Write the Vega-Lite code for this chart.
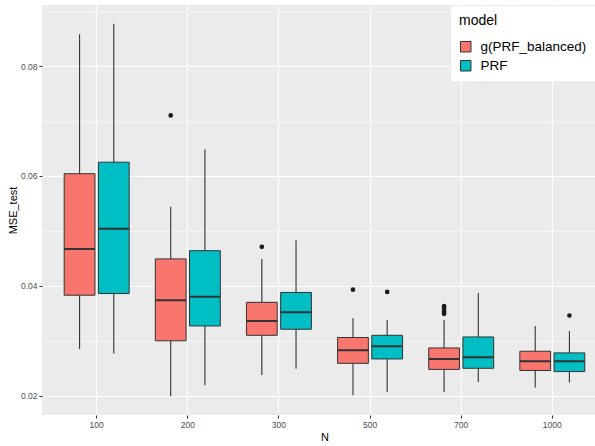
{
  "$schema": "https://vega.github.io/schema/vega-lite/v6.json",
  "width": 553,
  "height": 410,
  "autosize": {"type": "none"},
  "padding": {"left": 42, "top": 5, "right": 0, "bottom": 31},
  "background": "white",
  "config": {
    "font": "Liberation Sans",
    "view": {"fill": "#EBEBEB", "stroke": null}
  },
  "datasets": {
    "boxes": [
      {"N": 100, "model": "g(PRF_balanced)", "lower": 0.0285, "q1": 0.0383, "median": 0.0467, "q3": 0.0604, "upper": 0.0858},
      {"N": 100, "model": "PRF", "lower": 0.0277, "q1": 0.0386, "median": 0.0504, "q3": 0.0625, "upper": 0.0877},
      {"N": 200, "model": "g(PRF_balanced)", "lower": 0.0199, "q1": 0.0300, "median": 0.0374, "q3": 0.0449, "upper": 0.0544},
      {"N": 200, "model": "PRF", "lower": 0.0219, "q1": 0.0327, "median": 0.0380, "q3": 0.0464, "upper": 0.0648},
      {"N": 300, "model": "g(PRF_balanced)", "lower": 0.0238, "q1": 0.0310, "median": 0.0336, "q3": 0.0370, "upper": 0.0449},
      {"N": 300, "model": "PRF", "lower": 0.0249, "q1": 0.0321, "median": 0.0352, "q3": 0.0388, "upper": 0.0483},
      {"N": 500, "model": "g(PRF_balanced)", "lower": 0.0201, "q1": 0.0259, "median": 0.0283, "q3": 0.0306, "upper": 0.0341},
      {"N": 500, "model": "PRF", "lower": 0.0207, "q1": 0.0267, "median": 0.0290, "q3": 0.0310, "upper": 0.0338},
      {"N": 700, "model": "g(PRF_balanced)", "lower": 0.0207, "q1": 0.0248, "median": 0.0267, "q3": 0.0287, "upper": 0.0338},
      {"N": 700, "model": "PRF", "lower": 0.0225, "q1": 0.0250, "median": 0.0270, "q3": 0.0307, "upper": 0.0387},
      {"N": 1000, "model": "g(PRF_balanced)", "lower": 0.0215, "q1": 0.0246, "median": 0.0263, "q3": 0.0281, "upper": 0.0327},
      {"N": 1000, "model": "PRF", "lower": 0.0224, "q1": 0.0244, "median": 0.0263, "q3": 0.0278, "upper": 0.0318}
    ],
    "outliers": [
      {"N": 200, "model": "g(PRF_balanced)", "value": 0.0710},
      {"N": 300, "model": "g(PRF_balanced)", "value": 0.0471},
      {"N": 500, "model": "g(PRF_balanced)", "value": 0.0393},
      {"N": 500, "model": "PRF", "value": 0.0389},
      {"N": 700, "model": "g(PRF_balanced)", "value": 0.0363},
      {"N": 700, "model": "g(PRF_balanced)", "value": 0.0358},
      {"N": 700, "model": "g(PRF_balanced)", "value": 0.0353},
      {"N": 700, "model": "g(PRF_balanced)", "value": 0.0349},
      {"N": 1000, "model": "PRF", "value": 0.0346}
    ]
  },
  "encoding": {
    "x": {
      "field": "N",
      "type": "ordinal",
      "scale": {"range": [0, 565], "paddingInner": 0, "paddingOuter": 0.1},
      "axis": {
        "title": "N",
        "titleFontSize": 11,
        "titleFontWeight": "normal",
        "titleColor": "#000000",
        "titlePadding": 3,
        "labelAngle": 0,
        "labelFontSize": 8.5,
        "labelColor": "#4D4D4D",
        "labelPadding": 2,
        "domain": false,
        "tickColor": "#333333",
        "tickSize": 3,
        "grid": true,
        "gridColor": "#FFFFFF",
        "gridWidth": 1.1
      }
    },
    "xOffset": {
      "field": "model",
      "type": "nominal",
      "scale": {"domain": ["g(PRF_balanced)", "PRF"], "paddingInner": 0.1, "paddingOuter": 0.3825}
    }
  },
  "layer": [
    {
      "data": {"name": "boxes"},
      "mark": {"type": "rule", "color": "#333333", "strokeWidth": 1.1},
      "encoding": {
        "y": {
          "field": "lower",
          "type": "quantitative",
          "scale": {"domain": [0.0165, 0.0911], "nice": false, "zero": false},
          "axis": {
            "title": "MSE_test",
            "titleFontSize": 11,
            "titleFontWeight": "normal",
            "titleColor": "#000000",
            "titlePadding": 2,
            "values": [0.02, 0.03, 0.04, 0.05, 0.06, 0.07, 0.08, 0.09],
            "labelExpr": "round(datum.value*100) % 2 == 0 ? format(datum.value, '.2f') : ''",
            "labelFontSize": 8.5,
            "labelColor": "#4D4D4D",
            "labelPadding": 2,
            "domain": false,
            "tickSize": 3,
            "tickColor": {"condition": {"test": "round(datum.value*100) % 2 == 0", "value": "#333333"}, "value": "transparent"},
            "grid": true,
            "gridColor": "#FFFFFF",
            "gridWidth": {"condition": {"test": "round(datum.value*100) % 2 == 0", "value": 1.1}, "value": 0.55}
          }
        },
        "y2": {"field": "upper"}
      }
    },
    {
      "data": {"name": "boxes"},
      "mark": {"type": "bar", "stroke": "#333333", "strokeWidth": 1},
      "encoding": {
        "y": {"field": "q1", "type": "quantitative"},
        "y2": {"field": "q3"},
        "color": {
          "field": "model",
          "type": "nominal",
          "scale": {"domain": ["g(PRF_balanced)", "PRF"], "range": ["#F8766D", "#00BFC4"]},
          "legend": {
            "title": "model",
            "orient": "none",
            "legendX": 409,
            "legendY": 1,
            "fillColor": "#FFFFFF",
            "padding": 8,
            "titleFontSize": 14,
            "titleFontWeight": "normal",
            "titleColor": "#000000",
            "titlePadding": 12,
            "labelFontSize": 13.5,
            "labelColor": "#000000",
            "labelOffset": 8,
            "symbolType": "square",
            "symbolSize": 110,
            "symbolStrokeColor": "#333333",
            "symbolStrokeWidth": 1,
            "symbolOpacity": 1,
            "rowPadding": 4
          }
        }
      }
    },
    {
      "data": {"name": "boxes"},
      "mark": {"type": "bar", "fill": null, "stroke": "#333333", "strokeWidth": 2},
      "encoding": {
        "y": {"field": "median", "type": "quantitative"},
        "y2": {"field": "median"}
      }
    },
    {
      "data": {"name": "outliers"},
      "mark": {"type": "point", "filled": true, "color": "#1A1A1A", "opacity": 1, "size": 22},
      "encoding": {
        "y": {"field": "value", "type": "quantitative"}
      }
    }
  ]
}
